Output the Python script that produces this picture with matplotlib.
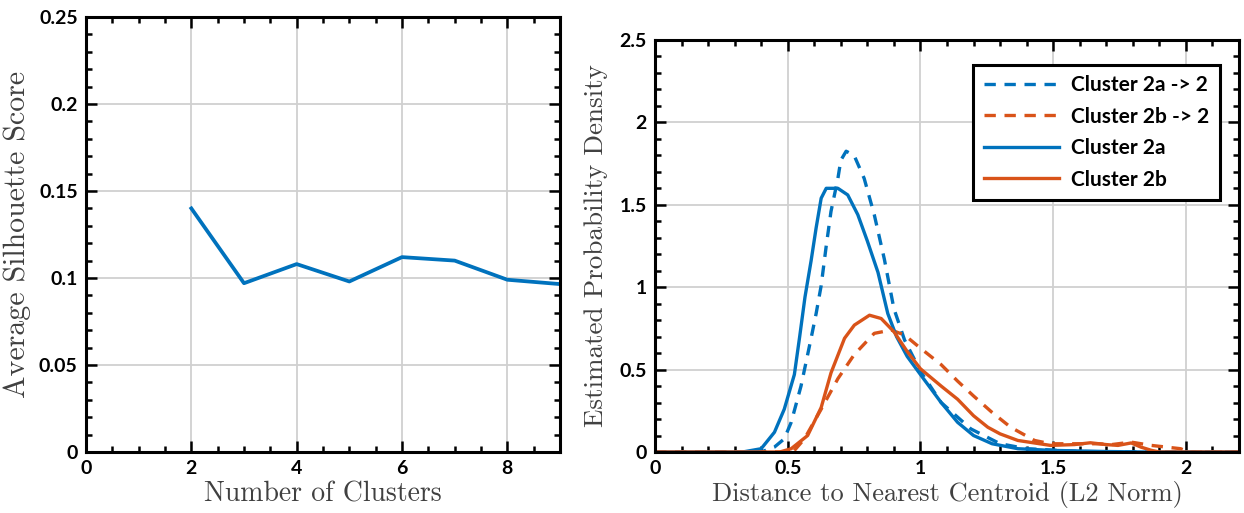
import numpy as np
import matplotlib
matplotlib.use("Agg")
import matplotlib.pyplot as plt
from matplotlib.ticker import MultipleLocator

# --- left panel: silhouette score vs number of clusters
n_clusters = [2, 3, 4, 5, 6, 7, 8, 9]
silhouette = [0.140, 0.097, 0.108, 0.098, 0.112, 0.110, 0.099, 0.0965]

# --- right panel: estimated densities
x_2a = [0.0, 0.33, 0.40, 0.45, 0.487, 0.525, 0.545, 0.565, 0.588, 0.607, 0.626, 0.645,
        0.689, 0.726, 0.764, 0.80, 0.84, 0.877, 0.91, 0.95, 1.0, 1.078, 1.14, 1.20,
        1.27, 1.367, 1.49, 1.7, 1.85, 2.22]
y_2a = [0.0, 0.0, 0.02, 0.12, 0.26, 0.47, 0.70, 0.94, 1.16, 1.36, 1.54, 1.6,
        1.6, 1.56, 1.44, 1.28, 1.09, 0.84, 0.70, 0.58, 0.47, 0.30, 0.18, 0.10,
        0.05, 0.02, 0.01, 0.003, 0.0, 0.0]

x_2a_to2 = [0.0, 0.40, 0.45, 0.487, 0.513, 0.55, 0.588, 0.607, 0.626, 0.645, 0.663, 0.689,
            0.70, 0.72, 0.75, 0.788, 0.826, 0.864, 0.90, 0.94, 1.0, 1.078, 1.19, 1.30,
            1.40, 1.6, 1.8, 2.22]
y_2a_to2 = [0.0, 0.0, 0.03, 0.08, 0.18, 0.40, 0.69, 0.84, 1.01, 1.25, 1.46, 1.66,
            1.77, 1.825, 1.80, 1.66, 1.44, 1.17, 0.87, 0.68, 0.49, 0.30, 0.14, 0.05,
            0.02, 0.003, 0.0, 0.0]

x_2b = [0.0, 0.47, 0.513, 0.575, 0.626, 0.663, 0.714, 0.751, 0.808, 0.852, 0.90, 0.95,
        1.0, 1.078, 1.14, 1.20, 1.254, 1.30, 1.367, 1.49, 1.58, 1.64, 1.70, 1.744,
        1.794, 1.83, 1.87, 1.9, 2.22]
y_2b = [0.0, 0.0, 0.02, 0.10, 0.27, 0.48, 0.69, 0.77, 0.83, 0.81, 0.73, 0.61,
        0.505, 0.40, 0.32, 0.22, 0.15, 0.11, 0.07, 0.04, 0.045, 0.056, 0.045, 0.04,
        0.055, 0.03, 0.01, 0.0, 0.0]

x_2b_to2 = [0.0, 0.52, 0.563, 0.626, 0.689, 0.75, 0.826, 0.89, 0.94, 1.0, 1.078, 1.14,
            1.2, 1.27, 1.34, 1.43, 1.49, 1.58, 1.67, 1.72, 1.794, 1.87, 1.98, 2.01, 2.22]
y_2b_to2 = [0.0, 0.0, 0.08, 0.26, 0.445, 0.59, 0.72, 0.74, 0.71, 0.63, 0.53, 0.43,
            0.34, 0.24, 0.15, 0.07, 0.05, 0.05, 0.05, 0.045, 0.06, 0.04, 0.02, 0.0, 0.0]

BLUE = "#0072BD"
ORANGE = "#D95319"
LABEL_COLOR = "#404040"
TICK_FONT = "Lato"
LABEL_FONT = "cmr10"
LW = 2.4

plt.rcParams["axes.formatter.use_mathtext"] = True


def style_axes(ax):
    for s in ax.spines.values():
        s.set_linewidth(2.2)
        s.set_color("black")
    ax.tick_params(which="both", direction="in", top=True, right=True, width=1.8)
    ax.tick_params(which="major", length=8, labelsize=14, pad=6)
    ax.tick_params(which="minor", length=4.5)
    for lab in ax.get_xticklabels() + ax.get_yticklabels():
        lab.set_fontfamily(TICK_FONT)
        lab.set_fontweight("bold")
    ax.grid(True, which="major", color="#d0d0d0", linewidth=1.3)
    ax.set_axisbelow(True)


W, H = 1244, 513
fig = plt.figure(figsize=(W / 100, H / 100), dpi=100)

# left
ax1 = fig.add_axes([86 / W, 1 - 452 / H, (560 - 86) / W, (452 - 17) / H])
ax1.plot(n_clusters, silhouette, color=BLUE, lw=LW + 0.3)
ax1.set_xlim(0, 9)
ax1.set_ylim(0, 0.25)
ax1.set_xticks([0, 2, 4, 6, 8])
ax1.set_xticklabels(["0", "2", "4", "6", "8"])
ax1.set_yticks([0, 0.05, 0.1, 0.15, 0.2, 0.25])
ax1.set_yticklabels(["0", "0.05", "0.1", "0.15", "0.2", "0.25"])
ax1.xaxis.set_minor_locator(MultipleLocator(0.5))
ax1.yaxis.set_minor_locator(MultipleLocator(0.01))
style_axes(ax1)
ax1.set_xlabel("Number of Clusters", fontfamily=LABEL_FONT, fontsize=20,
               color=LABEL_COLOR, labelpad=3)
ax1.set_ylabel("Average Silhouette Score", fontfamily=LABEL_FONT, fontsize=21.5,
               color=LABEL_COLOR, labelpad=6)

# right
ax2 = fig.add_axes([655 / W, 1 - 452 / H, (1239 - 655) / W, (452 - 40) / H])
ax2.plot(x_2a_to2, y_2a_to2, color=BLUE, lw=LW, ls=(0, (3.4, 2.6)), label="Cluster 2a -> 2")
ax2.plot(x_2b_to2, y_2b_to2, color=ORANGE, lw=LW, ls=(0, (3.4, 2.6)), label="Cluster 2b -> 2")
ax2.plot(x_2a, y_2a, color=BLUE, lw=LW, label="Cluster 2a")
ax2.plot(x_2b, y_2b, color=ORANGE, lw=LW, label="Cluster 2b")
ax2.set_xlim(0, 2.2)
ax2.set_ylim(0, 2.5)
ax2.set_xticks([0, 0.5, 1, 1.5, 2])
ax2.set_xticklabels(["0", "0.5", "1", "1.5", "2"])
ax2.set_yticks([0, 0.5, 1, 1.5, 2, 2.5])
ax2.set_yticklabels(["0", "0.5", "1", "1.5", "2", "2.5"])
ax2.xaxis.set_minor_locator(MultipleLocator(0.1))
ax2.yaxis.set_minor_locator(MultipleLocator(0.1))
style_axes(ax2)
ax2.set_xlabel("Distance to Nearest Centroid (L2 Norm)", fontfamily=LABEL_FONT, fontsize=19,
               color=LABEL_COLOR, labelpad=3)
ax2.set_ylabel("Estimated Probability Density", fontfamily=LABEL_FONT, fontsize=19.5,
               color=LABEL_COLOR, labelpad=8)
leg = ax2.legend(loc="upper right", bbox_to_anchor=(0.985, 0.965), fancybox=False,
                 framealpha=1, edgecolor="black", handlelength=3.6, handletextpad=0.6,
                 borderpad=0.5, labelspacing=0.55,
                 prop={"family": TICK_FONT, "weight": "bold", "size": 15})
leg.get_frame().set_linewidth(2.2)

fig.savefig("out.png", dpi=100)
